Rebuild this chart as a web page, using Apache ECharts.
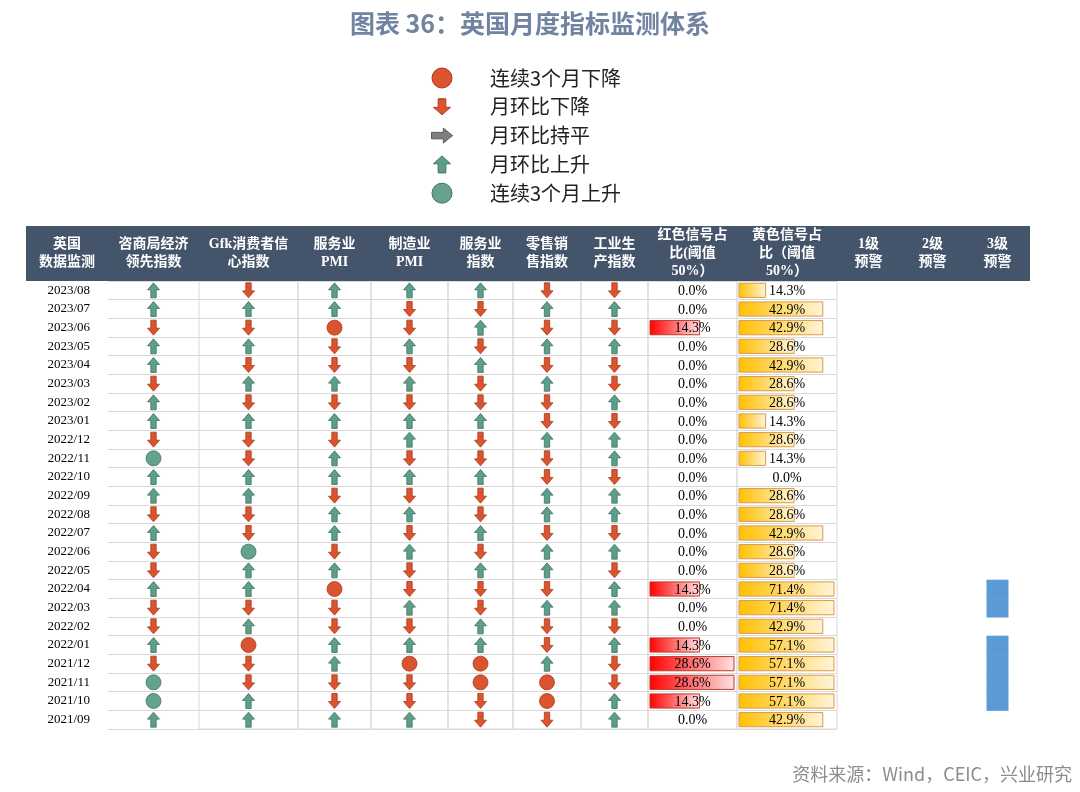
<!DOCTYPE html>
<html>
<head>
<meta charset="utf-8">
<title>英国月度指标监测体系</title>
<script src="https://cdn.jsdelivr.net/npm/echarts@6/dist/echarts.min.js"></script>
<style>
html, body { margin: 0; padding: 0; background: #fff; }
#chart { width: 1080px; height: 792px; }
</style>
</head>
<body>
<div id="chart"></div>
<script>
// 月份（表格自上而下）
const months = ['2023/08', '2023/07', '2023/06', '2023/05', '2023/04', '2023/03', '2023/02', '2023/01',
  '2022/12', '2022/11', '2022/10', '2022/09', '2022/08', '2022/07', '2022/06', '2022/05', '2022/04',
  '2022/03', '2022/02', '2022/01', '2021/12', '2021/11', '2021/10', '2021/09']

// 指标列名
const indicators = ['咨商局经济\n领先指数', 'Gfk消费者信\n心指数', '服务业\nPMI', '制造业\nPMI',
  '服务业\n指数', '零售销\n售指数', '工业生\n产指数']

// U 月环比上升  D 月环比下降  F 月环比持平  GC 连续3个月上升  RC 连续3个月下降
const confBoardLead = ['U', 'U', 'D', 'U', 'U', 'D', 'U', 'U', 'D', 'GC', 'U', 'U', 'D', 'U', 'D', 'D', 'U', 'D', 'D', 'U', 'D', 'GC', 'GC', 'U']
const gfkConfidence = ['D', 'U', 'D', 'U', 'D', 'U', 'D', 'U', 'D', 'D', 'U', 'U', 'D', 'D', 'GC', 'U', 'U', 'D', 'U', 'RC', 'D', 'D', 'U', 'U']
const servicesPmi = ['U', 'U', 'RC', 'D', 'D', 'U', 'D', 'U', 'D', 'U', 'U', 'D', 'U', 'U', 'D', 'U', 'RC', 'D', 'D', 'U', 'U', 'D', 'D', 'U']
const manufPmi = ['U', 'D', 'D', 'U', 'D', 'U', 'D', 'U', 'U', 'D', 'U', 'D', 'U', 'D', 'U', 'D', 'D', 'U', 'D', 'U', 'RC', 'D', 'D', 'U']
const servicesIndex = ['U', 'D', 'U', 'D', 'U', 'D', 'D', 'U', 'D', 'D', 'U', 'D', 'D', 'U', 'D', 'U', 'D', 'D', 'U', 'U', 'RC', 'RC', 'D', 'D']
const retailSales = ['D', 'U', 'D', 'U', 'D', 'U', 'D', 'D', 'U', 'D', 'D', 'U', 'U', 'D', 'U', 'U', 'D', 'U', 'D', 'D', 'U', 'RC', 'RC', 'D']
const industrialProd = ['D', 'U', 'D', 'U', 'D', 'D', 'U', 'D', 'U', 'U', 'D', 'U', 'U', 'D', 'U', 'D', 'U', 'U', 'D', 'U', 'D', 'D', 'U', 'U']

// 红色 / 黄色信号占比（%）
const redShare = [0, 0, 14.3, 0, 0, 0, 0, 0, 0, 0, 0, 0, 0, 0, 0, 0, 14.3, 0, 0, 14.3, 28.6, 28.6, 14.3, 0]
const yellowShare = [14.3, 42.9, 42.9, 28.6, 42.9, 28.6, 28.6, 14.3, 28.6, 14.3, 0, 28.6, 28.6, 42.9, 28.6, 28.6, 71.4, 71.4, 42.9, 57.1, 57.1, 57.1, 57.1, 42.9]

// 预警（1 = 触发）
const warn1 = [0, 0, 0, 0, 0, 0, 0, 0, 0, 0, 0, 0, 0, 0, 0, 0, 0, 0, 0, 0, 0, 0, 0, 0]
const warn2 = [0, 0, 0, 0, 0, 0, 0, 0, 0, 0, 0, 0, 0, 0, 0, 0, 0, 0, 0, 0, 0, 0, 0, 0]
const warn3 = [0, 0, 0, 0, 0, 0, 0, 0, 0, 0, 0, 0, 0, 0, 0, 0, 1, 1, 0, 1, 1, 1, 1, 0]

const signalColumns = [confBoardLead, gfkConfidence, servicesPmi, manufPmi, servicesIndex, retailSales, industrialProd]
const shareLabels = ['红色信号占\n比(阈值\n50%）', '黄色信号占\n比（阈值\n50%）']
const warnLabels = ['1级\n预警', '2级\n预警', '3级\n预警']
const legendItems = [
  { name: '连续3个月下降', code: 'RC' },
  { name: '月环比下降', code: 'D' },
  { name: '月环比持平', code: 'F' },
  { name: '月环比上升', code: 'U' },
  { name: '连续3个月上升', code: 'GC' }
]

// ---- 版式 ----
const COL_EDGES = [108, 199, 298, 371, 448, 513, 581, 648, 737, 837, 900, 965, 1030]
const HEAD_LEFT = 26
const HEAD_TOP = 226
const BODY_TOP = 281
const BODY_H = 448
const LINE = '#D9D9D9'
const SERIF = '"Liberation Serif", "Noto Sans CJK SC", serif'
const RED_AXIS_MIN = -5.4 // Excel 数据条最短长度

const GREEN = '#5E9E89'
const GREEN_DARK = '#3C7564'
const RED = '#D9542F'
const RED_DARK = '#AC3A1B'

// 箭头轮廓（单位框内的点）
const UP_PTS = [[6, 0], [12, 6.5], [8.7, 6.5], [8.7, 14], [3.3, 14], [3.3, 6.5], [0, 6.5]]
const DOWN_PTS = [[3.3, 0], [8.7, 0], [8.7, 7.5], [12, 7.5], [6, 14], [0, 7.5], [3.3, 7.5]]
const RIGHT_PTS = [[0, 4], [9, 4], [9, 0], [16, 7], [9, 14], [9, 10], [0, 10]]
const toPath = pts => 'path://M' + pts.map(p => p.join(',')).join('L') + 'Z'

const SYMBOLS = {
  U: { symbol: toPath(UP_PTS), pts: UP_PTS, box: [12, 14], size: [12, 15], legend: [17, 17], color: GREEN, border: GREEN_DARK },
  D: { symbol: toPath(DOWN_PTS), pts: DOWN_PTS, box: [12, 14], size: [12, 15], legend: [17, 16], color: RED, border: RED_DARK },
  F: { symbol: toPath(RIGHT_PTS), pts: RIGHT_PTS, box: [16, 14], size: [14, 12], legend: [21, 15], color: '#7F7F7F', border: '#5A5A5A' },
  GC: { symbol: 'circle', size: 15, color: '#66A28E', border: GREEN_DARK },
  RC: { symbol: 'circle', size: 15, color: RED, border: RED_DARK }
}

const grids = []
const xAxes = []
const yAxes = []
const series = []

for (let i = 0; i < COL_EDGES.length - 1; i++) {
  const isWarn = i >= 9
  grids.push({
    left: COL_EDGES[i],
    top: BODY_TOP,
    width: COL_EDGES[i + 1] - COL_EDGES[i],
    height: BODY_H,
    show: i > 0 && !isWarn,
    borderColor: LINE,
    borderWidth: 1,
    backgroundColor: 'transparent'
  })
  yAxes.push({
    type: 'category',
    gridIndex: i,
    data: months,
    inverse: true,
    axisLine: { show: false },
    axisTick: { show: false },
    axisLabel: {
      show: i === 0,
      margin: 18,
      color: '#000',
      fontSize: 13,
      fontFamily: SERIF
    },
    splitLine: { show: !isWarn, lineStyle: { color: LINE, width: 1 } }
  })
}

// 信号列
signalColumns.forEach((col, i) => {
  xAxes.push({ type: 'category', gridIndex: i, data: [indicators[i]], show: false })
  series.push({
    type: 'scatter',
    xAxisIndex: i,
    yAxisIndex: i,
    silent: true,
    data: col.map((code, r) => {
      const s = SYMBOLS[code]
      return {
        value: [0, r],
        symbol: s.symbol,
        symbolSize: s.size,
        itemStyle: { color: s.color, borderColor: s.border, borderWidth: 0.8, opacity: 1 }
      }
    })
  })
})

// 数据条列
function shareRender (axisMin, fillFrom, fillTo, stroke) {
  return function (params, api) {
    const v = api.value(0)
    const r = api.value(1)
    const cs = params.coordSys
    const end = api.coord([v, r])
    const start = api.coord([axisMin, r])
    const h = api.size([0, 1])[1] - 4.5
    const x0 = start[0] + 2
    const x1 = Math.min(end[0], cs.x + cs.width - 3)
    const children = []
    if (v > 0) {
      children.push({
        type: 'rect',
        shape: { x: x0, y: end[1] - h / 2, width: x1 - x0, height: h },
        style: {
          fill: new echarts.graphic.LinearGradient(0, 0, 1, 0, [
            { offset: 0, color: fillFrom },
            { offset: 1, color: fillTo }
          ]),
          stroke: stroke,
          lineWidth: 1
        }
      })
    }
    children.push({
      type: 'text',
      x: cs.x + cs.width / 2,
      y: end[1] + 1,
      style: {
        text: v.toFixed(1) + '%',
        fill: '#000',
        fontSize: 14,
        fontFamily: SERIF,
        align: 'center',
        verticalAlign: 'middle'
      }
    })
    return { type: 'group', children }
  }
}

const shares = [
  { data: redShare, min: RED_AXIS_MIN, max: 28.6, from: '#FF0000', to: '#FFE2E2', stroke: '#C0392B' },
  { data: yellowShare, min: 0, max: 50, from: '#FFC000', to: '#FFF4DA', stroke: '#D99A4E' }
]
shares.forEach((s, k) => {
  const gi = 7 + k
  xAxes.push({ type: 'value', gridIndex: gi, min: s.min, max: s.max, show: false })
  series.push({
    type: 'custom',
    xAxisIndex: gi,
    yAxisIndex: gi,
    silent: true,
    renderItem: shareRender(s.min, s.from, s.to, s.stroke),
    data: s.data.map((v, r) => [v, r])
  })
})

// 预警列
;[warn1, warn2, warn3].forEach((w, k) => {
  const gi = 9 + k
  xAxes.push({ type: 'category', gridIndex: gi, data: [warnLabels[k]], show: false })
  series.push({
    type: 'custom',
    xAxisIndex: gi,
    yAxisIndex: gi,
    silent: true,
    renderItem: function (params, api) {
      if (!api.value(2)) return
      const c = api.coord([0, api.value(1)])
      const band = api.size([0, 1])[1]
      return {
        type: 'rect',
        shape: { x: c[0] - 11, y: c[1] - band / 2, width: 22, height: band + 0.5 },
        style: { fill: '#5B9BD5' }
      }
    },
    data: w.map((v, r) => [0, r, v])
  })
})

// 表头
const headLabels = ['英国\n数据监测'].concat(indicators, shareLabels, warnLabels)
const headEdges = [HEAD_LEFT].concat(COL_EDGES)
const graphics = [{
  type: 'rect',
  shape: { x: HEAD_LEFT, y: HEAD_TOP, width: COL_EDGES[COL_EDGES.length - 1] - HEAD_LEFT, height: BODY_TOP - HEAD_TOP },
  style: { fill: '#44546A' }
}]
headLabels.forEach((t, i) => {
  graphics.push({
    type: 'text',
    x: (headEdges[i] + headEdges[i + 1]) / 2,
    y: (HEAD_TOP + BODY_TOP) / 2,
    style: {
      text: t,
      fill: '#fff',
      fontSize: 14,
      fontWeight: 'bold',
      fontFamily: SERIF,
      lineHeight: 18,
      align: 'center',
      verticalAlign: 'middle'
    }
  })
})

// 图例
legendItems.forEach((it, i) => {
  const cy = 78 + i * 28.8
  const s = SYMBOLS[it.code]
  if (s.symbol === 'circle') {
    graphics.push({
      type: 'circle',
      shape: { cx: 442, cy: cy, r: 10 },
      style: { fill: s.color, stroke: s.border, lineWidth: 1 }
    })
  } else {
    const w = s.legend[0]
    const h = s.legend[1]
    graphics.push({
      type: 'polygon',
      shape: { points: s.pts.map(p => [442 - w / 2 + p[0] * w / s.box[0], cy - h / 2 + p[1] * h / s.box[1]]) },
      style: { fill: s.color, stroke: s.border, lineWidth: 1 }
    })
  }
  graphics.push({
    type: 'text',
    x: 490,
    y: cy,
    style: {
      text: it.name,
      fill: '#222',
      fontSize: 20,
      fontFamily: '"Noto Sans CJK SC"',
      align: 'left',
      verticalAlign: 'middle'
    }
  })
})

// 标题与来源
graphics.push({
  type: 'text',
  x: 530,
  y: 23,
  style: {
    text: '图表 36：英国月度指标监测体系',
    fill: '#7083A0',
    fontSize: 25,
    fontWeight: 'bold',
    fontFamily: '"Noto Sans CJK SC"',
    align: 'center',
    verticalAlign: 'middle'
  }
})
graphics.push({
  type: 'text',
  x: 1072,
  y: 774,
  style: {
    text: '资料来源：Wind，CEIC，兴业研究',
    fill: '#8C8C8C',
    fontSize: 18,
    fontFamily: '"Noto Sans CJK SC"',
    align: 'right',
    verticalAlign: 'middle'
  }
})

const option = {
  animation: false,
  backgroundColor: '#fff',
  grid: grids,
  xAxis: xAxes,
  yAxis: yAxes,
  series: series,
  graphic: { elements: graphics }
}

const myChart = echarts.init(document.getElementById('chart'))
myChart.setOption(option)
</script>
</body>
</html>
